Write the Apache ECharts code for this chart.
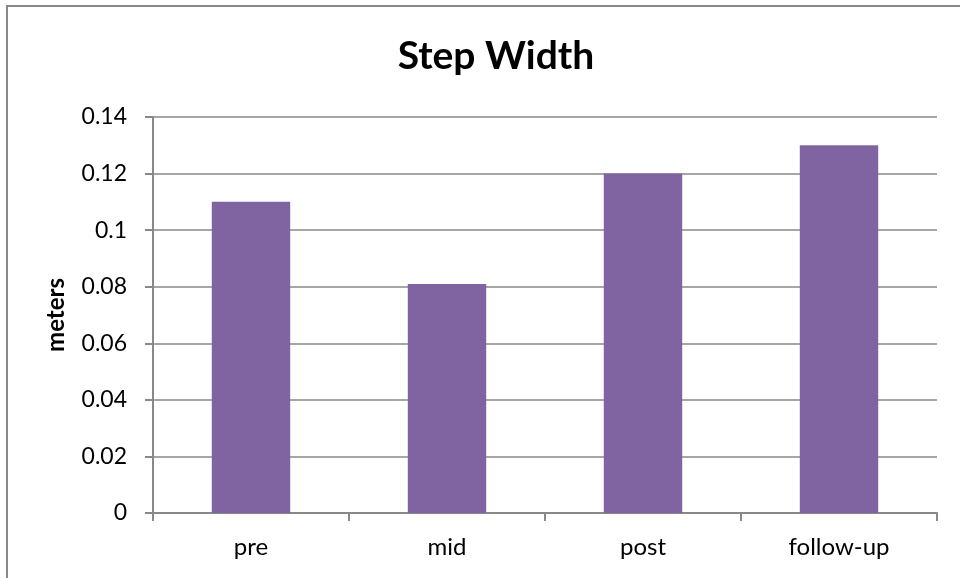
<!DOCTYPE html>
<html>
<head>
<meta charset="utf-8">
<script src="https://cdn.jsdelivr.net/npm/echarts@6/dist/echarts.min.js"></script>
<style>
  html, body { margin: 0; padding: 0; background: #fff; }
  #chart { width: 960px; height: 578px; }
</style>
</head>
<body>
<div id="chart"></div>
<script>
const categories = ["pre", "mid", "post", "follow-up"];
const stepWidth = [0.11, 0.081, 0.12, 0.13];
const yTicks = { min: 0, max: 0.14, interval: 0.02 };

const font = "Lato, 'Open Sans', sans-serif";
const chart = echarts.init(document.getElementById("chart"));
chart.setOption({
  animation: false,
  title: {
    text: "Step Width",
    left: 491,
    textAlign: "center",
    top: 32,
    textStyle: { fontFamily: font, fontSize: 39, fontWeight: "bold", color: "#000" },
  },
  graphic: [
    {
      type: "rect",
      shape: { x: 7, y: 6, width: 1000, height: 1000 },
      style: { fill: "none", stroke: "#888", lineWidth: 2 },
      silent: true,
    },
  ],
  grid: { left: 153, right: 23, top: 117, bottom: 65 },
  xAxis: {
    type: "category",
    data: categories,
    axisLine: { lineStyle: { color: "#888", width: 2 } },
    axisTick: { show: true, length: 8, lineStyle: { color: "#888", width: 2 } },
    axisLabel: { margin: 22, fontFamily: font, fontSize: 24, color: "#000" },
  },
  yAxis: {
    type: "value",
    min: yTicks.min,
    max: yTicks.max,
    interval: yTicks.interval,
    name: "meters",
    nameLocation: "middle",
    nameGap: 85,
    nameTextStyle: { fontFamily: font, fontSize: 24, fontWeight: "bold", color: "#000" },
    axisLine: { show: true, lineStyle: { color: "#888", width: 2 } },
    axisTick: { show: true, length: 8, lineStyle: { color: "#888", width: 2 } },
    axisLabel: {
      margin: 26,
      fontFamily: font,
      fontSize: 23,
      color: "#000",
      formatter: (v) => (v === 0 ? "0" : String(+v.toFixed(2))),
    },
    splitLine: { lineStyle: { color: "#888", width: 1.5 } },
  },
  series: [
    {
      type: "bar",
      data: stepWidth,
      barWidth: "40%",
      itemStyle: { color: "#8064A2" },
    },
  ],
});
</script>
</body>
</html>
